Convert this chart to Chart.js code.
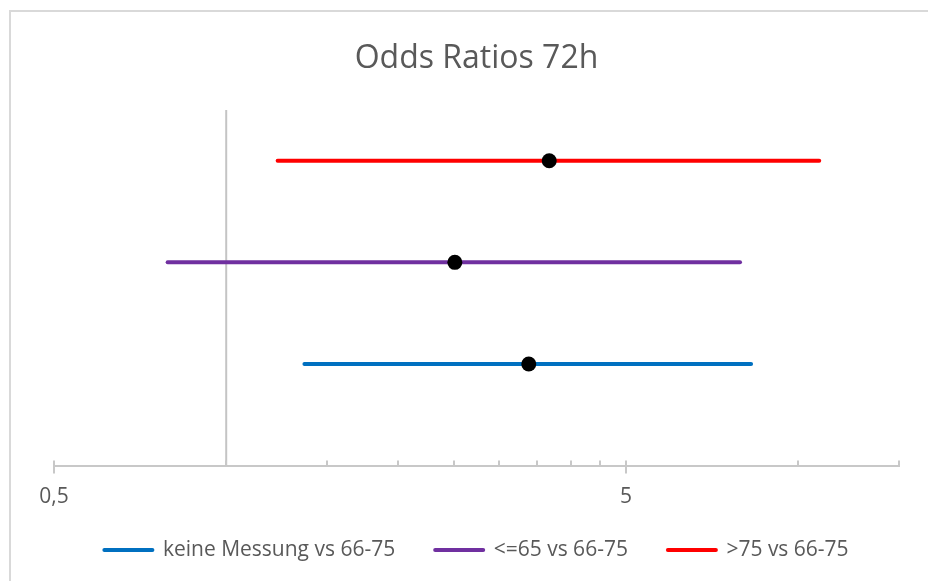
<!DOCTYPE html>
<html>
<head>
<meta charset="utf-8">
<script src="https://cdn.jsdelivr.net/npm/chart.js@4/dist/chart.umd.min.js"></script>
<style>
  html, body { margin: 0; padding: 0; background: #fff; overflow: hidden; }
  #frame { position: absolute; left: 9px; top: 10px; width: 1000px; height: 1000px; border: 2px solid #D9D9D9; box-sizing: border-box; }
  #canvasOne { position: absolute; left: 0; top: 0; }
</style>
</head>
<body>
<div id="frame"></div>
<canvas id="canvasOne" width="928" height="581"></canvas>
<script>
// values (log scale, odds ratios with 95% CI)
const seriesNames = ['keine Messung vs 66-75', '<=65 vs 66-75', '>75 vs 66-75'];
const seriesColors = ['#0070C0', '#7030A0', '#FF0000'];
const rowPos = [1, 2, 3];
const oddsRatio = [3.38, 2.51, 3.67];
const ciLower = [1.37, 0.79, 1.23];
const ciUpper = [8.27, 7.91, 10.88];

const tickValues = [0.5, 1, 1.5, 2, 2.5, 3, 3.5, 4, 4.5, 5, 10, 15];
const majorValues = [0.5, 5];
const tickLabels = ['0,5', '5'];
const refLine = [{x: 1, y: 0}, {x: 1, y: 3.5}];

Chart.defaults.font.family = '"Open Sans", sans-serif';
Chart.defaults.color = '#595959';

var datasets = [];
// black point estimates on top
datasets.push({
   label: 'OR',
   data: oddsRatio.map(function(v, i) { return {x: v, y: rowPos[i]}; }),
   backgroundColor: '#000',
   borderWidth: 0,
   pointRadius: 7.5,
   pointHoverRadius: 7.5,
   showLine: false,
   order: -1
});
seriesNames.forEach(function(name, i) {
   datasets.push({
      label: name,
      data: [{x: ciLower[i], y: rowPos[i]}, {x: ciUpper[i], y: rowPos[i]}],
      borderColor: seriesColors[i],
      backgroundColor: seriesColors[i],
      borderWidth: 4,
      borderCapStyle: 'round',
      pointRadius: 0,
      showLine: true,
      order: 1
   });
});
datasets.push({
   label: 'ref',
   data: refLine,
   borderColor: '#C4C4C4',
   borderWidth: 2,
   pointRadius: 0,
   showLine: true,
   order: 2
});

// small tick marks like the original axis
const tickMarks = {
   id: 'tickMarks',
   afterDraw: function(chart) {
      var sc = chart.scales.x;
      var ctx = chart.ctx;
      var y0 = chart.chartArea.bottom;
      ctx.save();
      ctx.strokeStyle = '#C8C8C8';
      ctx.lineWidth = 2;
      sc.ticks.forEach(function(t) {
         var px = Math.round(sc.getPixelForValue(t.value));
         ctx.beginPath();
         ctx.moveTo(px, y0 - 5);
         ctx.lineTo(px, majorValues.includes(t.value) ? y0 + 8 : y0);
         ctx.stroke();
      });
      ctx.restore();
   }
};

var ctx = document.getElementById('canvasOne').getContext('2d');
var config = {
   type: 'scatter',
   data: { datasets: datasets },
   plugins: [tickMarks],
   options: {
      responsive: false,
      animation: false,
      layout: { padding: { left: 54, right: 29, top: 0, bottom: 10.5 } },
      scales: {
         x: {
            type: 'logarithmic',
            min: 0.5,
            max: 15,
            afterBuildTicks: function(scale) {
               scale.ticks = tickValues.map(function(v) { return {value: v, major: majorValues.includes(v)}; });
            },
            afterFit: function(scale) {
               scale.height = 34;
            },
            grid: { display: false, drawTicks: false },
            border: { display: true, color: '#C8C8C8', width: 2 },
            ticks: {
               autoSkip: false,
               mirror: true,          // no clipping; labels pushed below with negative padding
               maxRotation: 0,
               padding: -35,
               color: '#595959',
               font: { size: 21, lineHeight: 0.3 },
               callback: function(v) {
                  var k = majorValues.indexOf(v);
                  return k >= 0 ? tickLabels[k] : '';
               }
            }
         },
         y: {
            type: 'linear',
            min: 0,
            max: 3.5,
            display: false
         }
      },
      plugins: {
         title: {
            display: true,
            text: 'Odds Ratios 72h',
            color: '#595959',
            font: { size: 32, weight: 'normal', lineHeight: 1 },
            padding: { top: 43, bottom: 35 }
         },
         legend: {
            position: 'bottom',
            labels: {
               usePointStyle: true,
               pointStyleWidth: 48,
               padding: 40,
               color: '#595959',
               font: { size: 21 },
               generateLabels: function(chart) {
                  return seriesNames.map(function(name, i) {
                     return {
                        text: name,
                        fillStyle: seriesColors[i],
                        strokeStyle: seriesColors[i],
                        lineWidth: 4,
                        lineCap: 'round',
                        pointStyle: 'line',
                        fontColor: '#595959',
                        hidden: false,
                        datasetIndex: i + 1
                     };
                  });
               }
            }
         },
         tooltip: { enabled: false }
      }
   }
};

var chart = new Chart(ctx, config);
</script>
</body>
</html>
